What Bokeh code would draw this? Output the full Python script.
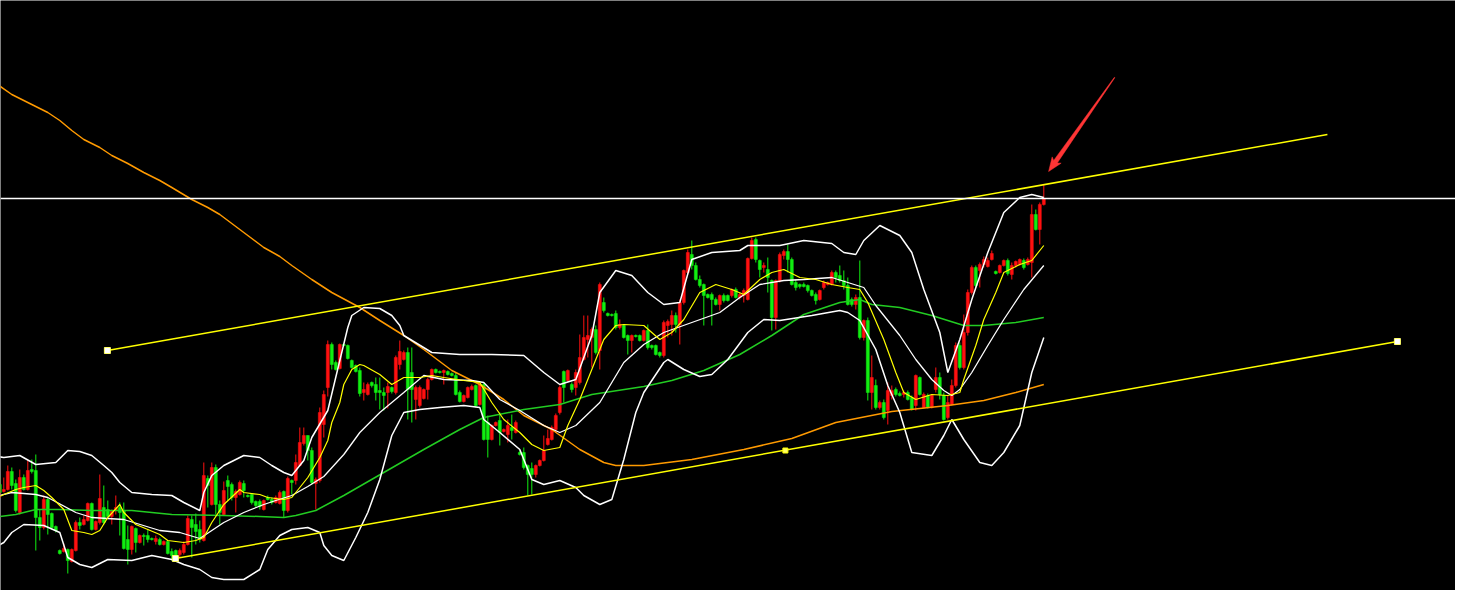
import math
from bokeh.plotting import figure
from bokeh.models import Range1d, Span, ColumnDataSource
from bokeh.embed import file_html
from bokeh.resources import INLINE

# ---- candle data (price units) ----
open_ = [101,108,114,107,109,127,115,86,121,109,
         129,128,81,71,99,85,72,48,47,49,
         37,48,76,74,78,95,69,76,91,89,
         82,88,91,88,59,49,70,56,63,63,
         60,57,59,54,57,47,48,44,46,54,
         79,74,69,58,120,94,131,94,84,118,
         114,101,104,115,103,104,97,97,89,101,
         99,96,95,107,88,118,118,133,155,163,
         148,115,118,174,211,254,236,230,254,253,
         238,233,228,206,204,216,214,208,206,206,
         211,206,234,239,246,226,199,193,200,209,
         219,229,227,226,227,225,223,206,197,201,
         209,213,194,214,176,159,173,178,167,164,
         171,166,146,146,133,130,124,133,138,154,
         159,169,186,227,218,214,211,216,239,259,
         261,269,248,296,285,284,285,271,273,263,
         258,263,263,258,268,253,253,246,243,273,
         274,283,274,296,326,344,333,319,314,304,
         304,299,294,303,303,303,309,301,303,299,
         340,359,338,331,329,318,281,318,343,347,
         339,316,314,314,313,308,304,299,311,314,
         314,326,323,318,313,299,294,301,261,278,
         206,213,191,196,188,203,209,205,204,206,
         201,193,221,191,203,191,209,221,203,181,
         194,213,253,231,266,306,331,328,334,332,
         339,327,326,333,338,324,333,334,338,334,
         336,384,369,394]
close = [109,113,106,109,127,113,88,121,109,128,
         127,81,71,99,84,71,68,45,50,38,
         49,76,73,79,95,69,77,100,76,82,
         88,91,86,50,49,72,56,63,62,59,
         59,60,54,57,45,43,42,48,54,80,
         71,67,59,123,113,131,94,86,108,112,
         101,107,116,108,102,96,93,92,98,99,
         96,101,106,88,120,116,136,156,163,148,
         116,119,186,204,254,234,229,254,253,240,
         231,227,205,209,214,213,206,206,203,212,
         207,241,247,246,209,209,211,211,209,219,
         229,226,226,228,224,223,204,197,203,211,
         212,193,214,159,159,173,176,166,169,173,
         168,176,144,131,124,124,133,138,148,160,
         171,183,211,211,228,209,226,241,261,263,
         269,246,314,288,283,283,271,274,261,258,
         263,262,258,268,251,251,244,243,276,277,
         283,274,296,328,346,333,319,313,303,301,
         299,294,303,298,298,309,301,304,308,340,
         358,339,329,333,321,281,318,344,347,339,
         314,311,312,312,308,303,298,308,316,316,
         326,321,318,313,294,294,301,261,278,206,
         221,191,196,181,208,208,204,203,206,199,
         189,223,204,204,191,203,221,204,179,196,
         213,253,231,266,306,331,313,334,339,338,
         345,325,333,338,325,333,337,339,331,339,
         384,369,394,400]
high = [111,118,123,121,133,131,119,129,124,138,
        139,144,89,103,101,86,73,49,55,50,
        50,78,81,83,96,96,78,124,113,98,
        89,103,96,96,73,73,71,64,65,69,
        61,63,61,58,58,50,49,50,57,83,
        83,85,78,136,123,136,134,98,117,123,
        116,109,118,118,104,105,98,99,99,103,
        101,103,108,108,122,119,144,171,171,163,
        151,121,191,208,258,256,238,255,255,254,
        239,234,231,216,216,217,221,221,211,216,
        212,243,258,248,251,251,213,213,210,221,
        230,230,228,229,228,226,226,208,204,212,
        214,214,216,216,183,174,177,186,170,179,
        184,178,148,151,134,136,134,139,163,169,
        173,185,213,228,229,216,229,264,283,283,
        271,273,316,301,286,285,288,279,274,264,
        264,264,264,269,274,254,254,247,278,279,
        288,286,299,329,349,358,336,323,315,305,
        306,301,304,305,304,310,311,306,310,341,
        361,361,339,336,341,319,319,346,349,354,
        341,319,315,316,314,309,306,309,318,317,
        328,328,333,328,321,301,304,338,279,281,
        243,219,198,199,216,213,211,207,208,208,
        203,224,222,206,205,204,231,226,206,203,
        219,256,256,284,309,333,333,336,342,341,
        348,328,334,339,340,336,338,340,340,341,
        394,389,396,414]
low = [100,106,103,106,108,109,86,84,108,108,
       125,48,58,69,64,69,66,44,46,25,
       36,47,69,73,77,68,68,74,74,81,
       74,84,63,49,34,44,46,55,53,56,
       58,54,53,53,44,38,38,41,44,53,
       41,54,56,57,91,93,84,74,83,98,
       98,86,103,101,101,94,91,89,88,98,
       94,95,94,81,86,104,114,132,153,138,
       114,89,116,161,202,229,228,229,252,239,
       230,226,202,198,203,211,198,189,188,190,
       205,204,229,238,179,176,179,191,199,199,
       218,225,225,214,223,222,203,196,196,200,
       208,191,193,158,141,158,172,153,166,156,
       159,165,143,129,103,104,121,132,137,153,
       158,166,184,196,217,206,203,214,238,241,
       231,244,229,286,282,282,269,269,260,244,
       246,261,257,257,249,249,243,241,241,261,
       263,266,254,294,324,329,318,311,273,300,
       273,293,288,296,297,301,300,299,296,298,
       339,336,321,326,306,268,269,316,339,326,
       313,308,310,311,306,302,294,298,309,313,
       313,316,316,309,293,292,289,259,258,198,
       189,189,189,179,174,199,202,202,201,198,
       188,188,203,190,190,190,206,199,178,179,
       193,211,229,229,263,304,311,311,331,331,
       338,324,325,332,323,319,331,333,329,333,
       321,368,354,393]

# ---- indicator lines (bar index, price) ----
bb_up_x = [0,3,7,11,16,19,22,25,28,30,32,35,40,45,48,52,53,55,58,63,67,70,73,75,78,80,84,87,89,90,
           93,97,100,102,103,110,117,125,133,138,142,146,150,152,156,160,164,168,172,175,180,187,189,197,
           203,210,213,216,218,222,227,230,233,237,239,242,245,249,253,257,260,263]
bb_up = [143,141,143,134,136,148,147,143,133,126,116,106,104,103,96,88,106,123,133,143,141,133,126,123,
         138,161,188,238,271,283,291,290,283,273,263,246,244,244,243,226,214,219,263,306,328,323,306,294,
         296,339,346,348,353,353,358,355,346,344,358,373,363,346,309,266,226,259,299,346,386,401,404,401]
bb_mid_x = [0,5,11,14,21,25,33,42,47,52,55,58,63,68,71,75,79,83,88,92,97,103,108,113,120,123,127,132,
            138,142,146,152,158,163,168,175,182,187,192,198,203,210,218,221,227,231,235,238,240,242,245,
            249,253,258,263]
bb_mid = [101,106,104,101,86,81,79,68,66,60,68,76,86,94,98,103,112,122,144,166,186,206,223,219,218,216,
          199,188,173,166,173,196,236,254,266,276,286,301,314,318,319,321,311,293,263,239,219,208,203,209,
          226,253,279,309,333]
bb_low_x = [0,3,5,8,13,17,19,22,25,29,35,40,45,48,52,55,58,63,67,69,72,75,79,82,83,85,88,91,94,97,
            100,103,107,112,118,122,123,127,132,135,138,142,146,148,152,155,158,161,163,168,169,173,177,
            180,184,189,193,197,205,212,214,217,221,224,227,230,235,238,240,243,247,250,253,257,260,263]
bb_low = [49,56,66,74,73,66,41,34,31,39,38,43,39,34,29,21,19,19,29,49,63,69,71,66,53,43,38,61,86,119,
          163,186,189,191,193,191,179,166,149,119,114,118,111,103,94,99,139,186,206,236,239,229,222,224,
          239,266,279,278,283,288,286,278,249,213,186,146,143,163,179,159,136,133,146,173,226,261]
ma_fast_x = [0,3,6,8,11,13,15,18,20,23,25,27,29,32,33,36,39,42,44,48,51,53,55,58,62,63,67,69,73,75,
             77,79,82,84,85,87,88,90,92,93,97,100,103,107,110,113,118,122,125,128,132,135,138,142,144,
             147,150,153,156,158,163,167,170,173,177,181,185,188,192,195,198,202,206,210,214,217,219,
             223,226,228,231,235,239,242,243,246,248,251,253,257,260,263]
ma_fast = [98,104,109,111,113,108,101,89,68,66,64,68,81,94,86,74,69,64,58,56,58,61,76,94,109,106,104,
           101,99,101,111,121,141,158,176,196,214,229,234,233,224,214,221,221,223,221,218,216,196,179,
           166,154,148,151,173,199,229,259,273,274,273,259,266,279,306,314,309,304,319,326,329,321,319,
           314,311,309,296,259,226,206,199,204,203,206,219,253,279,306,326,334,338,353]
ma_mid_x = [0,6,11,17,25,35,45,58,67,73,76,81,88,98,108,117,123,133,142,150,163,170,178,187,195,203,
            212,217,220,227,235,243,248,256,263]
ma_mid = [81,84,89,89,88,88,84,83,82,81,83,88,103,126,149,169,181,189,194,204,212,218,228,244,263,284,
          296,299,294,291,283,273,273,276,281]
ma_slow_x = [0,5,10,14,17,20,23,27,30,34,38,42,45,50,54,57,60,63,68,72,75,80,85,92,97,103,108,115,
             122,128,133,140,147,153,156,163,175,188,200,211,225,239,248,256,263]
ma_slow = [518,504,494,486,478,468,459,451,443,435,426,418,411,399,391,384,375,366,351,342,333,319,
           306,291,278,263,249,228,214,199,183,169,149,136,133,133,139,149,160,176,187,193,198,206,214]

# ---- drawn objects ----
chan_up_x = [28.9, 333.9]
chan_up_y = [248, 464]
chan_lo_x = [45.9, 351.4]
chan_lo_y = [40, 257]
anchor_x = [28.9, 45.9, 351.4]
anchor_y = [248, 40, 257]
mid_anchor_x = [198.4]
mid_anchor_y = [148]
level_price = 400
arrow_x = [280.7, 264.2]
arrow_y = [521, 427]

RED = "#ff1010"
GREEN = "#11ee11"

W, H = 1455, 590
x0, x1 = 2.175, 365.925
y0, y1 = 8, 598
p = figure(width=W, height=H, output_backend="svg", toolbar_location=None,
           x_axis_location=None, y_axis_location=None,
           x_range=Range1d(x0, x1), y_range=Range1d(y0, y1),
           background_fill_color="black", border_fill_color="black",
           min_border=0, outline_line_color=None)
p.xgrid.visible = False
p.ygrid.visible = False

xs = list(range(len(open_)))
up_src = dict(x=[], top=[], bottom=[], high=[], low=[])
dn_src = dict(x=[], top=[], bottom=[], high=[], low=[])
for i, o, h, l, c in zip(xs, open_, high, low, close):
    d = up_src if c >= o else dn_src
    d["x"].append(i)
    d["top"].append(max(o, c))
    d["bottom"].append(min(o, c))
    d["high"].append(h)
    d["low"].append(l)

for d, col in ((up_src, RED), (dn_src, GREEN)):
    s = ColumnDataSource(d)
    p.segment(x0="x", y0="low", x1="x", y1="high", source=s, line_color=col, line_width=1)
    p.vbar(x="x", width=0.75, top="top", bottom="bottom", source=s,
           fill_color=col, line_color=col, line_width=0.5)

# indicators
p.line(ma_slow_x, ma_slow, line_color="#ff9a00", line_width=1.5)
p.line(ma_mid_x, ma_mid, line_color="#22cc22", line_width=1.5)
p.line(bb_up_x, bb_up, line_color="white", line_width=1.5)
p.line(bb_mid_x, bb_mid, line_color="white", line_width=1.3)
p.line(bb_low_x, bb_low, line_color="white", line_width=1.5)
p.line(ma_fast_x, ma_fast, line_color="#ffff00", line_width=1.2)

# channel
p.line(chan_up_x, chan_up_y, line_color="#ffff00", line_width=1.5)
p.line(chan_lo_x, chan_lo_y, line_color="#ffff00", line_width=1.5)
p.scatter(anchor_x, anchor_y, marker="square", size=6, fill_color="white", line_color="#ffff66", line_width=1)
p.scatter(mid_anchor_x, mid_anchor_y, marker="square", size=5, fill_color="#ffff66", line_color="#ffff00")

p.add_layout(Span(location=level_price, dimension="width", line_color="white", line_width=1.3))

# tapered arrow (geometry computed in screen space from the two end points)
sx = W / (x1 - x0)
sy = H / (y1 - y0)
vx = (arrow_x[1] - arrow_x[0]) * sx
vy = (arrow_y[1] - arrow_y[0]) * sy
L = math.hypot(vx, vy)
ux, uy = vx / L, vy / L
nx, ny = -uy, ux

def pt(along, off):
    return (arrow_x[0] + (ux * along + nx * off) / sx,
            arrow_y[0] + (uy * along + ny * off) / sy)

shape = [pt(0, -0.3), pt(L - 12, -2.2), pt(L - 14, -5.5), pt(L, 0),
         pt(L - 14, 5.5), pt(L - 12, 2.2), pt(0, 0.3)]
p.patch([q[0] for q in shape], [q[1] for q in shape],
        fill_color="#ff3535", line_color="#ff3535", line_width=0.5)

open("out.html", "w").write(file_html(p, INLINE))
